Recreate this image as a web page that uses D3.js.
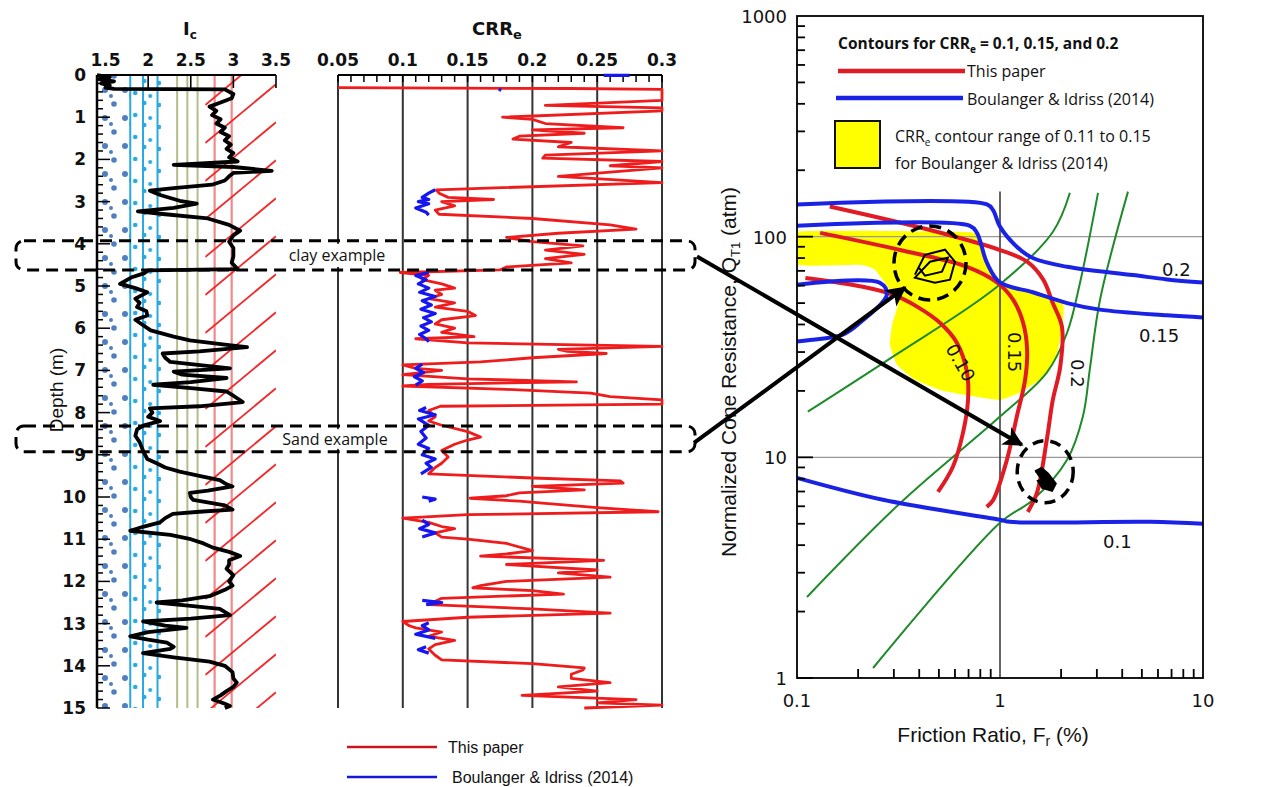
<!DOCTYPE html>
<html lang="en">
<head>
<meta charset="utf-8">
<title>CRRe profile and contours</title>
<script src="https://cdn.jsdelivr.net/npm/d3@7"></script>
<style>
body { margin: 0; background: #fff; }
text { font-family: "Liberation Sans", Arial, sans-serif; fill: #111; }
.tick-lbl { font-family: "DejaVu Sans", sans-serif; font-size: 17px; font-weight: bold; }
.tick-r { font-family: "DejaVu Sans", sans-serif; font-size: 18px; }
.cal { font-family: "Open Sans", sans-serif; }
</style>
</head>
<body>
<svg id="chart" width="1265" height="787"></svg>
<script>
// ---------- data ----------
var icTicks = [1.5, 2, 2.5, 3, 3.5];
var crrTicks = [0.05, 0.1, 0.15, 0.2, 0.25, 0.3];
var depthTicks = d3.range(0, 16);
var frTicks = [0.1, 1, 10];
var qTicks = [1, 10, 100, 1000];

// soil zone boundaries drawn behind the Ic profile
var zoneBlue = [1.79, 1.94, 2.11];
var zoneOlive = [2.34, 2.46, 2.58];
var zoneRed = [2.78, 2.98];

// [depth m, Ic]
var icProfile = [[0.0,1.4],[0.05,1.55],[0.1,1.42],[0.15,1.6],[0.2,1.45],[0.25,1.55],[0.3,1.5],[0.33,1.6],[0.34,2.9],[0.45,3.0],[0.55,2.98],[0.65,2.85],[0.75,2.72],[0.85,2.8],[0.95,2.75],[1.05,2.85],[1.15,2.8],[1.25,2.9],[1.35,2.85],[1.45,2.95],[1.55,2.9],[1.65,2.97],[1.75,2.92],[1.85,3.0],[1.95,2.95],[2.05,3.05],[2.13,2.3],[2.18,3.0],[2.27,3.45],[2.32,3.0],[2.4,2.95],[2.5,2.9],[2.6,2.75],[2.68,2.3],[2.74,2.02],[2.85,2.15],[2.98,2.37],[3.05,2.57],[3.15,2.3],[3.23,1.88],[3.3,2.2],[3.4,2.7],[3.55,2.95],[3.69,3.08],[3.8,3.0],[3.95,2.95],[4.1,3.0],[4.3,3.0],[4.45,2.98],[4.6,3.05],[4.63,2.0],[4.7,1.95],[4.8,1.8],[4.95,1.67],[5.05,1.85],[5.15,1.99],[5.3,1.85],[5.4,1.9],[5.5,1.87],[5.6,1.98],[5.7,1.99],[5.8,1.85],[5.9,1.92],[6.05,2.03],[6.2,2.3],[6.29,2.49],[6.4,2.95],[6.45,3.16],[6.55,2.6],[6.6,2.17],[6.7,2.2],[6.8,2.26],[6.95,2.96],[7.03,2.3],[7.1,2.4],[7.18,2.92],[7.28,2.5],[7.34,2.06],[7.42,2.5],[7.5,2.92],[7.6,3.0],[7.75,3.11],[7.85,2.6],[7.9,2.02],[8.0,2.05],[8.1,2.0],[8.2,2.14],[8.3,1.95],[8.4,1.87],[8.55,1.85],[8.7,1.9],[8.8,1.92],[8.95,1.95],[9.1,1.99],[9.2,2.1],[9.3,2.2],[9.4,2.37],[9.5,2.6],[9.6,2.84],[9.7,2.92],[9.75,2.99],[9.85,2.7],[9.9,2.49],[10.0,2.5],[10.07,2.53],[10.2,2.9],[10.3,2.99],[10.35,2.6],[10.4,2.29],[10.5,2.2],[10.6,2.14],[10.7,1.95],[10.8,1.79],[10.9,2.26],[11.0,2.5],[11.1,2.65],[11.2,2.76],[11.3,2.95],[11.4,3.08],[11.5,2.95],[11.6,2.95],[11.7,2.92],[11.85,3.0],[12.0,2.95],[12.1,2.99],[12.2,2.9],[12.35,2.72],[12.45,2.4],[12.5,2.1],[12.58,2.5],[12.65,2.84],[12.8,2.96],[12.88,2.5],[12.95,1.94],[13.05,2.2],[13.1,2.45],[13.2,2.0],[13.3,1.79],[13.38,2.0],[13.45,2.22],[13.55,2.3],[13.6,2.26],[13.7,1.94],[13.8,2.3],[13.9,2.72],[14.0,2.9],[14.15,2.99],[14.3,3.0],[14.4,3.04],[14.5,3.0],[14.6,2.92],[14.7,2.85],[14.8,2.76],[14.9,2.9],[14.95,2.96],[15.0,2.9]];

// [depth m, CRRe] this paper
var crrThisPaper = [[0.3,0.05],[0.32,0.23],[0.34,0.3],[0.6,0.3],[0.72,0.21],[0.78,0.3],[0.85,0.3],[1.0,0.177],[1.05,0.2],[1.15,0.21],[1.25,0.27],[1.3,0.2],[1.38,0.24],[1.45,0.19],[1.52,0.185],[1.6,0.23],[1.7,0.22],[1.8,0.3],[1.9,0.21],[1.97,0.208],[2.05,0.3],[2.15,0.26],[2.2,0.3],[2.4,0.22],[2.55,0.3],[2.72,0.126],[2.8,0.128],[2.9,0.135],[2.95,0.17],[3.0,0.13],[3.1,0.14],[3.2,0.125],[3.3,0.128],[3.4,0.2],[3.55,0.26],[3.65,0.28],[3.75,0.22],[3.85,0.18],[3.95,0.2],[4.05,0.239],[4.15,0.21],[4.25,0.24],[4.35,0.21],[4.45,0.23],[4.55,0.18],[4.62,0.175],[4.68,0.098],[4.75,0.12],[4.85,0.115],[4.95,0.13],[5.05,0.14],[5.1,0.125],[5.2,0.13],[5.3,0.12],[5.4,0.14],[5.5,0.125],[5.6,0.15],[5.7,0.156],[5.8,0.13],[5.9,0.125],[6.0,0.14],[6.1,0.13],[6.2,0.155],[6.25,0.11],[6.35,0.15],[6.43,0.3],[6.5,0.22],[6.55,0.227],[6.6,0.257],[6.7,0.2],[6.8,0.16],[6.87,0.1],[6.95,0.11],[7.0,0.13],[7.1,0.1],[7.2,0.15],[7.27,0.234],[7.33,0.12],[7.37,0.1],[7.45,0.18],[7.54,0.245],[7.62,0.26],[7.7,0.3],[7.8,0.3],[7.85,0.129],[7.95,0.12],[8.1,0.125],[8.2,0.12],[8.3,0.13],[8.45,0.15],[8.58,0.16],[8.65,0.15],[8.75,0.14],[8.9,0.13],[9.05,0.135],[9.2,0.13],[9.3,0.125],[9.45,0.12],[9.55,0.2],[9.62,0.268],[9.67,0.27],[9.75,0.2],[9.83,0.24],[9.9,0.19],[9.97,0.18],[10.03,0.152],[10.1,0.19],[10.15,0.21],[10.25,0.25],[10.35,0.297],[10.42,0.15],[10.5,0.1],[10.6,0.12],[10.7,0.13],[10.75,0.14],[10.85,0.125],[10.95,0.13],[11.0,0.15],[11.1,0.18],[11.27,0.2],[11.35,0.18],[11.4,0.16],[11.5,0.255],[11.6,0.18],[11.73,0.25],[11.8,0.22],[11.9,0.26],[12.0,0.18],[12.1,0.16],[12.15,0.154],[12.22,0.2],[12.3,0.224],[12.4,0.13],[12.55,0.12],[12.65,0.2],[12.75,0.26],[12.85,0.15],[12.95,0.1],[13.05,0.105],[13.1,0.11],[13.2,0.13],[13.3,0.12],[13.4,0.14],[13.5,0.125],[13.6,0.12],[13.75,0.125],[13.86,0.13],[13.95,0.2],[14.05,0.24],[14.1,0.239],[14.2,0.23],[14.3,0.23],[14.4,0.26],[14.5,0.22],[14.6,0.25],[14.7,0.192],[14.8,0.28],[14.88,0.25],[14.93,0.3],[15.0,0.24]];

// Boulanger & Idriss (2014), only where it was computed (gaps = null)
var crrBoulanger = [[0.01,0.255],[0.01,0.275],null,[0.34,0.174],[0.36,0.176],null,
  [2.72,0.125],[2.8,0.12],[2.9,0.115],[2.95,0.12],[3.0,0.112],[3.05,0.12],[3.15,0.11],[3.25,0.118],[3.32,0.12],null,
  [4.68,0.12],[4.75,0.11],[4.85,0.118],[4.95,0.112],[5.05,0.12],[5.15,0.113],[5.25,0.125],[5.35,0.115],[5.45,0.122],[5.55,0.114],[5.65,0.125],[5.75,0.116],[5.85,0.122],[5.95,0.114],[6.05,0.12],[6.15,0.113],[6.25,0.118],[6.32,0.12],null,
  [6.85,0.115],[6.95,0.11],[7.05,0.116],[7.15,0.109],[7.25,0.115],[7.35,0.11],null,
  [7.88,0.118],[7.95,0.113],[8.05,0.125],[8.15,0.112],[8.3,0.12],[8.45,0.114],[8.6,0.118],[8.75,0.112],[8.85,0.12],[9.0,0.115],[9.1,0.125],[9.2,0.118],[9.3,0.122],[9.45,0.114],null,
  [10.0,0.115],[10.05,0.125],[10.1,0.12],null,
  [10.55,0.115],[10.65,0.12],[10.75,0.113],[10.85,0.125],[10.95,0.115],null,
  [12.45,0.115],[12.5,0.13],[12.55,0.118],null,
  [12.98,0.12],[13.05,0.115],[13.15,0.12],[13.25,0.11],[13.35,0.125],null,
  [13.55,0.118],[13.62,0.112],[13.7,0.12]];

var clayDepth = [3.93, 4.62];
var sandDepth = [8.32, 8.93];

// right chart: [Fr %, QT1]
var redC10 = [[0.11,65],[0.211,59.3],[0.297,54.6],[0.39,48.2],[0.506,40.7],[0.614,33],[0.688,24.2],[0.696,18.2],[0.657,12.9],[0.586,9.06],[0.495,6.97]];
var redC15 = [[0.13,104],[0.322,87],[0.688,73],[0.967,62],[1.16,51.8],[1.30,40.7],[1.36,30.7],[1.33,22.5],[1.21,15.3],[1.08,9.7],[0.925,6.4],[0.86,5.97]];
var redC20 = [[0.145,137],[0.437,108],[1.0,87],[1.36,77],[1.63,64],[1.82,50],[2.02,39],[1.98,25.7],[1.82,18.2],[1.70,12],[1.52,6.9],[1.37,5.66]];
var blueC20 = [[0.1,140],[0.863,140],[0.924,132],[1.0,111],[1.21,90],[1.45,80],[2.14,73],[4.52,67],[6.65,64],[10,62]];
var blueC15 = [[0.1,112],[0.711,112],[0.77,104],[0.863,76],[1.0,62],[1.45,56],[2.14,50],[3.1,46.7],[6.65,44],[10,43]];
var blueC15b = [[0.1,60.6],[0.256,61.8],[0.277,54.6],[0.204,40.7],[0.168,36],[0.116,34],[0.1,33.5]];
var blueC10 = [[0.1,8.07],[0.265,6.42],[1.0,5.21],[1.12,5.1],[5.48,5.1],[10,5.0]];
var green1 = [[0.113,16.1],[0.297,28.6],[0.967,59.3],[1.82,105],[2.21,158]];
var green2 = [[0.112,2.33],[0.322,6.2],[1.0,15.3],[1.70,24.2],[2.14,36.7],[2.48,62],[3.04,158]];
var green3 = [[0.237,1.11],[1.0,5.05],[1.45,6.4],[2.14,9.74],[2.56,15.3],[2.78,25.7],[3.11,51.8],[4.27,160]];
var yellowRange = [[0.1,105.4],[0.696,105],[0.779,96.9],[0.863,77],[1.0,62],[1.45,56],[2.04,49.7],[2.02,37.9],[1.87,27.7],[1.57,22.5],[1.25,19.6],[1.0,18.2],[0.711,19],[0.506,20.2],[0.381,22.5],[0.311,26.3],[0.287,32.4],[0.294,39.9],[0.315,49.7],[0.287,57.5],[0.242,70.8],[0.204,74.6],[0.1,74.6]];
var sandPoints = [[0.381,67.3],[0.427,82.8],[0.536,87.3],[0.600,77.0],[0.567,63.8],[0.478,61.8],[0.381,65.2],[0.452,77],[0.554,80.3],[0.518,69.4],[0.427,66.6],[0.40,72]];
var clayPoints = [[1.49,8.6],[1.6,8.9],[1.72,8.4],[1.87,7.6],[1.8,7.1],[1.62,7.3],[1.55,7.8],[1.7,8.0],[1.65,7.5]];
var sandCircle = [0.452, 76];
var clayCircle = [1.67, 8.6];
var sandArrowTip = [0.34, 58.7];
var clayArrowTip = [1.28, 11.4];

// ---------- scales ----------
var svg = d3.select("#chart");
var yD = d3.scaleLinear().domain([0, 15]).range([75, 708]);
var xIc = d3.scaleLinear().domain([1.4, 3.5]).range([97, 276]);
var xC = d3.scaleLinear().domain([0.05, 0.3]).range([338, 662]);
var xF = d3.scaleLog().domain([0.1, 10]).range([797, 1203]);
var yQ = d3.scaleLog().domain([1, 1000]).range([678, 16]);

var defs = svg.append("defs");
var pd = defs.append("pattern").attr("id", "dotsDark").attr("patternUnits", "userSpaceOnUse")
  .attr("width", 20).attr("height", 28);
[[5,6,3],[14,20,2.8],[11,12,2]].forEach(function(c){ pd.append("circle").attr("cx", c[0]).attr("cy", c[1]).attr("r", c[2]).attr("fill", "#4f7fbf"); });
var pc = defs.append("pattern").attr("id", "dotsCyan").attr("patternUnits", "userSpaceOnUse")
  .attr("width", 32).attr("height", 22).attr("x", xIc(1.79));
[[5,5,2.3],[14,15,2.3],[20,8,2],[29,17,2.3]].forEach(function(c){ pc.append("circle").attr("cx", c[0]).attr("cy", c[1]).attr("r", c[2]).attr("fill", "#2aa8e0"); });
defs.append("clipPath").attr("id", "hatchClip").append("rect")
  .attr("x", xIc(2.67)).attr("y", yD(0)).attr("width", xIc(3.5) - xIc(2.67)).attr("height", yD(15) - yD(0));
defs.append("clipPath").attr("id", "plotClip").append("rect")
  .attr("x", xF(0.1)).attr("y", yQ(1000)).attr("width", xF(10) - xF(0.1)).attr("height", yQ(1) - yQ(1000));
defs.append("marker").attr("id", "ah").attr("viewBox", "0 0 10 10").attr("refX", 9).attr("refY", 5)
  .attr("markerWidth", 6).attr("markerHeight", 5).attr("orient", "auto").attr("markerUnits", "strokeWidth")
  .append("path").attr("d", "M0,0 L10,5 L0,10 L2.5,5 z").attr("fill", "#000");

// ---------- Ic panel ----------
var gI = svg.append("g");
gI.append("rect").attr("x", xIc(1.4)).attr("y", yD(0)).attr("width", xIc(1.79) - xIc(1.4))
  .attr("height", yD(15) - yD(0)).attr("fill", "url(#dotsDark)");
gI.append("rect").attr("x", xIc(1.79)).attr("y", yD(0)).attr("width", xIc(2.15) - xIc(1.79))
  .attr("height", yD(15) - yD(0)).attr("fill", "url(#dotsCyan)");
gI.selectAll(".zb").data(zoneBlue).enter().append("line")
  .attr("x1", xIc).attr("x2", xIc).attr("y1", yD(0)).attr("y2", yD(15)).attr("stroke", "#2aa8e0").attr("stroke-width", 2);
gI.selectAll(".zo").data(zoneOlive).enter().append("line")
  .attr("x1", xIc).attr("x2", xIc).attr("y1", yD(0)).attr("y2", yD(15)).attr("stroke", "#b3bd8a").attr("stroke-width", 2);
gI.selectAll(".zr").data(zoneRed).enter().append("line")
  .attr("x1", xIc).attr("x2", xIc).attr("y1", yD(0)).attr("y2", yD(15)).attr("stroke", "#f08a8a").attr("stroke-width", 2.2);
var hatch = gI.append("g").attr("clip-path", "url(#hatchClip)");
hatch.selectAll("line").data(d3.range(0, 22)).enter().append("line")
  .attr("x1", xIc(2.67)).attr("x2", xIc(3.5))
  .attr("y1", function(i){ return yD(0) + 30 + i * 38; })
  .attr("y2", function(i){ return yD(0) + 30 + i * 38 - (xIc(3.5) - xIc(2.67)) * 0.83; })
  .attr("stroke", "#f02a2a").attr("stroke-width", 1.8);

gI.append("path").datum(icProfile)
  .attr("d", d3.line().x(function(d){ return xIc(d[1]); }).y(function(d){ return yD(d[0]); }))
  .attr("fill", "none").attr("stroke", "#000").attr("stroke-width", 3.8).attr("stroke-linejoin", "round");

// axes of Ic panel
gI.append("line").attr("x1", xIc(1.4)).attr("x2", xIc(3.5)).attr("y1", yD(0)).attr("y2", yD(0)).attr("stroke", "#000").attr("stroke-width", 2);
gI.append("line").attr("x1", xIc(1.4)).attr("x2", xIc(1.4)).attr("y1", yD(0)).attr("y2", yD(15)).attr("stroke", "#000").attr("stroke-width", 2.5);
gI.selectAll(".it").data(icTicks).enter().append("line")
  .attr("x1", xIc).attr("x2", xIc).attr("y1", yD(0)).attr("y2", yD(0) + 13).attr("stroke", "#000").attr("stroke-width", 1.6);
gI.selectAll(".il").data(icTicks).enter().append("text").attr("class", "tick-lbl")
  .attr("x", xIc).attr("y", 66).attr("text-anchor", "middle").text(function(d){ return d; });
gI.selectAll(".dm").data(d3.range(0, 15.01, 0.2)).enter().append("line")
  .attr("x1", xIc(1.4)).attr("x2", function(d){ return xIc(1.4) + (Math.abs(d - Math.round(d)) < 0.01 ? 13 : 6); })
  .attr("y1", yD).attr("y2", yD).attr("stroke", "#000").attr("stroke-width", 1.5);
gI.selectAll(".dl").data(depthTicks).enter().append("text").attr("class", "tick-lbl")
  .attr("x", 86).attr("y", function(d){ return yD(d) + 6; }).attr("text-anchor", "end").text(function(d){ return d; });
var ict = gI.append("text").attr("x", 190).attr("y", 35).attr("text-anchor", "middle")
  .style("font-family", "DejaVu Sans").style("font-weight", "bold").style("font-size", "18px");
ict.append("tspan").text("I");
ict.append("tspan").attr("dy", 4).style("font-size", "12px").text("c");
gI.append("text").attr("transform", "translate(63,390) rotate(-90)").attr("text-anchor", "middle")
  .style("font-size", "19px").text("Depth (m)");

// ---------- CRR panel ----------
var gC = svg.append("g");
gC.selectAll(".cg").data(crrTicks).enter().append("line")
  .attr("x1", xC).attr("x2", xC).attr("y1", yD(0)).attr("y2", yD(15)).attr("stroke", "#333").attr("stroke-width", 2);
gC.append("line").attr("x1", xC(0.05)).attr("x2", xC(0.3)).attr("y1", yD(0)).attr("y2", yD(0)).attr("stroke", "#000").attr("stroke-width", 2);
gC.selectAll(".cm").data(d3.range(0.05, 0.3001, 0.01)).enter().append("line")
  .attr("x1", xC).attr("x2", xC).attr("y1", yD(0)).attr("y2", yD(0) + 7).attr("stroke", "#000").attr("stroke-width", 1.5);
gC.selectAll(".cl").data(crrTicks).enter().append("text").attr("class", "tick-lbl")
  .attr("x", xC).attr("y", 66).attr("text-anchor", "middle").text(function(d){ return d; });
var crt = gC.append("text").attr("x", 497).attr("y", 35).attr("text-anchor", "middle")
  .style("font-family", "DejaVu Sans").style("font-weight", "bold").style("font-size", "18px");
crt.append("tspan").text("CRR");
crt.append("tspan").attr("dy", 4).style("font-size", "13px").text("e");

var crrLine = d3.line().defined(function(d){ return d !== null; })
  .x(function(d){ return xC(d[1]); }).y(function(d){ return yD(d[0]); });
gC.append("path").datum(crrThisPaper).attr("d", crrLine).attr("fill", "none")
  .attr("stroke", "#ee1c1c").attr("stroke-width", 2.8).attr("stroke-linejoin", "round");
gC.append("path").datum(crrBoulanger).attr("d", crrLine).attr("fill", "none")
  .attr("stroke", "#1616f0").attr("stroke-width", 3.2).attr("stroke-linejoin", "round");

// legend under CRR panel
var lg = svg.append("g");
lg.append("line").attr("x1", 347).attr("x2", 437).attr("y1", 747).attr("y2", 747).attr("stroke", "#c8161b").attr("stroke-width", 2.5);
lg.append("text").attr("x", 448).attr("y", 753).style("font-size", "16px").text("This paper");
lg.append("line").attr("x1", 347).attr("x2", 437).attr("y1", 777).attr("y2", 777).attr("stroke", "#1616d8").attr("stroke-width", 2.5);
lg.append("text").attr("x", 452).attr("y", 783).style("font-size", "16px").text("Boulanger & Idriss (2014)");

// ---------- right chart ----------
var gR = svg.append("g");
var fq = d3.line().x(function(d){ return xF(d[0]); }).y(function(d){ return yQ(d[1]); });
var fqSmooth = d3.line().x(function(d){ return xF(d[0]); }).y(function(d){ return yQ(d[1]); })
  .curve(d3.curveCatmullRom.alpha(0.5));
gR.append("path").datum(yellowRange).attr("clip-path", "url(#plotClip)")
  .attr("d", d3.line().x(function(d){ return xF(d[0]); }).y(function(d){ return yQ(d[1]); })
    .curve(d3.curveCardinalClosed.tension(0.6)))
  .attr("fill", "#ffff00");
gR.selectAll(".hg").data([10, 100]).enter().append("line")
  .attr("x1", xF(0.1)).attr("x2", xF(10)).attr("y1", yQ).attr("y2", yQ).attr("stroke", "#999").attr("stroke-width", 1.2);
gR.append("line").attr("x1", xF(1)).attr("x2", xF(1)).attr("y1", yQ(160)).attr("y2", yQ(1)).attr("stroke", "#333").attr("stroke-width", 1.5);

[green1, green2, green3].forEach(function(g){
  gR.append("path").datum(g).attr("d", fqSmooth).attr("fill", "none").attr("stroke", "#1f8a2a").attr("stroke-width", 2);
});
[redC10, redC15, redC20].forEach(function(g){
  gR.append("path").datum(g).attr("d", fqSmooth).attr("fill", "none").attr("stroke", "#e01b24").attr("stroke-width", 4);
});
[blueC20, blueC15, blueC15b, blueC10].forEach(function(g){
  gR.append("path").datum(g).attr("d", fqSmooth).attr("fill", "none").attr("stroke", "#1a22e6").attr("stroke-width", 4);
});

// frame and ticks
gR.append("rect").attr("x", xF(0.1)).attr("y", yQ(1000)).attr("width", xF(10) - xF(0.1))
  .attr("height", yQ(1) - yQ(1000)).attr("fill", "none").attr("stroke", "#000").attr("stroke-width", 1.8);
var qMinor = [], fMinor = [];
[1, 10, 100].forEach(function(p){ for (var m = 1; m < 10; m++) qMinor.push(m * p); });
[0.1, 1].forEach(function(p){ for (var m = 2; m < 10; m++) fMinor.push(m * p); });
gR.selectAll(".qm").data(qMinor).enter().append("line")
  .attr("x1", xF(0.1)).attr("x2", function(d){ return xF(0.1) + (qTicks.indexOf(d) >= 0 ? 16 : 8); })
  .attr("y1", yQ).attr("y2", yQ).attr("stroke", "#000").attr("stroke-width", 1.8);
gR.selectAll(".fm").data(fMinor).enter().append("line")
  .attr("x1", xF).attr("x2", xF).attr("y1", yQ(1)).attr("y2", yQ(1) - 9).attr("stroke", "#000").attr("stroke-width", 1.8);
gR.selectAll(".ql").data(qTicks).enter().append("text").attr("class", "tick-r")
  .attr("x", 787).attr("y", function(d){ return yQ(d) + 7; }).attr("text-anchor", "end").text(function(d){ return d; });
gR.selectAll(".fl").data(frTicks).enter().append("text").attr("class", "tick-r")
  .attr("x", xF).attr("y", 707).attr("text-anchor", "middle").text(function(d){ return d; });

var xt = gR.append("text").attr("x", 993).attr("y", 742).attr("text-anchor", "middle").style("font-size", "21px");
xt.append("tspan").text("Friction Ratio, F");
xt.append("tspan").attr("dy", 4).style("font-size", "14px").text("r");
xt.append("tspan").attr("dy", -4).text(" (%)");
var yt = gR.append("text").attr("transform", "translate(736,372) rotate(-90)").attr("text-anchor", "middle").style("font-size", "21px");
yt.append("tspan").text("Normalized Cone Resistance, Q");
yt.append("tspan").attr("dy", 4).style("font-size", "13px").text("T1");
yt.append("tspan").attr("dy", -4).text(" (atm)");

// contour labels
gR.append("text").attr("class", "tick-r").attr("x", 1162).attr("y", 276).text("0.2");
gR.append("text").attr("class", "tick-r").attr("x", 1139).attr("y", 342).text("0.15");
gR.append("text").attr("class", "tick-r").attr("x", 1103).attr("y", 548).text("0.1");
gR.append("text").attr("class", "tick-r").attr("text-anchor", "middle")
  .attr("transform", "translate(" + xF(0.6) + "," + yQ(26) + ") rotate(60)").text("0.10");
gR.append("text").attr("class", "tick-r").attr("text-anchor", "middle")
  .attr("transform", "translate(" + xF(1.1) + "," + yQ(30) + ") rotate(90)").text("0.15");
gR.append("text").attr("class", "tick-r").attr("text-anchor", "middle")
  .attr("transform", "translate(" + xF(2.25) + "," + yQ(24) + ") rotate(90)").text("0.2");

// legend inside right chart
var lt = gR.append("text").attr("class", "cal").attr("x", 838).attr("y", 49).style("font-size", "15.5px").style("font-weight", "bold");
lt.append("tspan").text("Contours for CRR");
lt.append("tspan").attr("dy", 4).style("font-size", "10px").text("e");
lt.append("tspan").attr("dy", -4).text(" = 0.1, 0.15, and 0.2");
gR.append("line").attr("x1", 838).attr("x2", 965).attr("y1", 71).attr("y2", 71).attr("stroke", "#e01b24").attr("stroke-width", 4.5);
gR.append("text").attr("class", "cal").attr("x", 967).attr("y", 77).style("font-size", "16px").text("This paper");
gR.append("line").attr("x1", 836).attr("x2", 963).attr("y1", 98).attr("y2", 98).attr("stroke", "#1a22e6").attr("stroke-width", 4.5);
gR.append("text").attr("class", "cal").attr("x", 967).attr("y", 105).style("font-size", "16px").text("Boulanger & Idriss (2014)");
gR.append("rect").attr("x", 835).attr("y", 121).attr("width", 45).attr("height", 47).attr("fill", "#ffff00").attr("stroke", "#111").attr("stroke-width", 2);
var yl = gR.append("text").attr("class", "cal").attr("x", 895).attr("y", 142).style("font-size", "16px");
yl.append("tspan").text("CRR");
yl.append("tspan").attr("dy", 4).style("font-size", "10px").text("e");
yl.append("tspan").attr("dy", -4).text(" contour range of 0.11 to 0.15");
gR.append("text").attr("class", "cal").attr("x", 895).attr("y", 169).style("font-size", "16px").text("for Boulanger & Idriss (2014)");

// case-history points and circles
gR.append("path").datum(sandPoints).attr("d", fq).attr("fill", "none").attr("stroke", "#000").attr("stroke-width", 2);
gR.append("path").datum(clayPoints).attr("d", fq).attr("fill", "#000").attr("stroke", "#000").attr("stroke-width", 3);
gR.append("ellipse").attr("cx", xF(sandCircle[0])).attr("cy", yQ(sandCircle[1])).attr("rx", 36).attr("ry", 37)
  .attr("fill", "none").attr("stroke", "#000").attr("stroke-width", 3.5).attr("stroke-dasharray", "12,7");
gR.append("ellipse").attr("cx", xF(clayCircle[0])).attr("cy", yQ(clayCircle[1])).attr("rx", 28).attr("ry", 31)
  .attr("fill", "none").attr("stroke", "#000").attr("stroke-width", 3.5).attr("stroke-dasharray", "11,7");

// ---------- example boxes and arrows ----------
var gB = svg.append("g");
[[clayDepth, "clay example", 337], [sandDepth, "Sand example", 335]].forEach(function(b){
  var y0 = yD(b[0][0]), y1 = yD(b[0][1]);
  gB.append("rect").attr("x", 280).attr("y", y0 + 3).attr("width", 118).attr("height", y1 - y0 - 6).attr("fill", "#fff");
  gB.append("text").attr("class", "cal").attr("x", b[2]).attr("y", (y0 + y1) / 2 + 6).attr("text-anchor", "middle")
    .style("font-size", "16px").text(b[1]);
  gB.append("rect").attr("x", 16).attr("y", y0).attr("width", 679).attr("height", y1 - y0).attr("rx", 8)
    .attr("fill", "none").attr("stroke", "#000").attr("stroke-width", 3).attr("stroke-dasharray", "12,7");
});
gB.append("line").attr("x1", 697).attr("y1", yD(4.3)).attr("x2", xF(clayArrowTip[0])).attr("y2", yQ(clayArrowTip[1]))
  .attr("stroke", "#000").attr("stroke-width", 4).attr("marker-end", "url(#ah)");
gB.append("line").attr("x1", 694).attr("y1", yD(8.72)).attr("x2", xF(sandArrowTip[0])).attr("y2", yQ(sandArrowTip[1]))
  .attr("stroke", "#000").attr("stroke-width", 4).attr("marker-end", "url(#ah)");
</script>
</body>
</html>
